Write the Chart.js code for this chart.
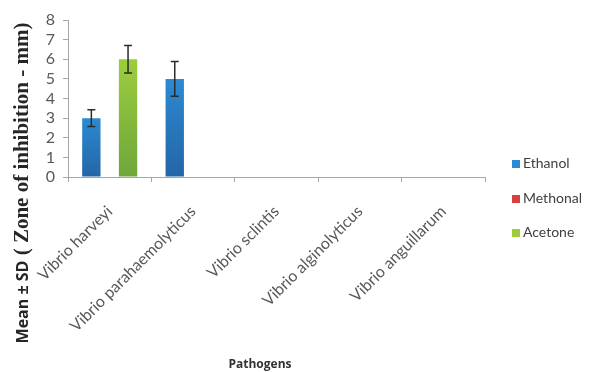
<!DOCTYPE html>
<html>
<head>
<meta charset="utf-8">
<script src="https://cdn.jsdelivr.net/npm/chart.js@4/dist/chart.umd.min.js"></script>
<style>
    body { margin: 0; background: #fff; }
    #wrap { position: relative; width: 597px; height: 372px; }
    #legend { position: absolute; left: 512px; top: 154px; font-family: Lato, "Open Sans", sans-serif; font-size: 14px; color: #404040; }
    .item { height: 34.5px; display: flex; align-items: flex-start; }
    .box { width: 8px; height: 8px; margin-right: 3px; margin-top: 6px; }
</style>
</head>
<body>
<div id="wrap">
    <canvas id="chart" width="597" height="372"></canvas>
    <div id="legend"></div>
</div>
<script>
// DATA
const categories = ['Vibrio harveyi', 'Vibrio parahaemolyticus', 'Vibrio sclintis', 'Vibrio alginolyticus', 'Vibrio anguillarum'];
const seriesNames = ['Ethanol', 'Methonal', 'Acetone'];
const ethanol = [3, 5, 0, 0, 0];
const methonal = [0, 0, 0, 0, 0];
const acetone = [6, 0, 0, 0, 0];
const ethanolSd = [0.43, 0.88, 0, 0, 0];
const methonalSd = [0, 0, 0, 0, 0];
const acetoneSd = [0.7, 0, 0, 0, 0];
const yTicks = [0, 1, 2, 3, 4, 5, 6, 7, 8];

const colors = {
    Ethanol: ['#2c8ad2', '#2365a6'],
    Methonal: ['#d84040', '#b52e2e'],
    Acetone: ['#9dcd3d', '#6ea63a']
};

// bar fill: light at the top of each bar, darker at the base
function shaded(name) {
    return function (ctx) {
        const chart = ctx.chart;
        const y = chart.scales.y;
        if (!y || !chart.chartArea) return colors[name][0];
        const top = y.getPixelForValue(ctx.raw || 0);
        const bottom = y.getPixelForValue(0);
        if (bottom - top < 1) return colors[name][0];
        const g = chart.ctx.createLinearGradient(0, top, 0, bottom);
        g.addColorStop(0, colors[name][0]);
        g.addColorStop(1, colors[name][1]);
        return g;
    };
}

const errorBars = {
    id: 'errorBars',
    afterDatasetsDraw(chart) {
        const ctx = chart.ctx;
        const y = chart.scales.y;
        chart.data.datasets.forEach((ds, i) => {
            const meta = chart.getDatasetMeta(i);
            meta.data.forEach((bar, j) => {
                const sd = ds.sd[j];
                if (!sd) return;
                const v = ds.data[j];
                const yt = y.getPixelForValue(v + sd);
                const yb = y.getPixelForValue(v - sd);
                ctx.save();
                ctx.strokeStyle = '#2b2b2b';
                ctx.lineWidth = 1.5;
                ctx.beginPath();
                ctx.moveTo(bar.x, yt); ctx.lineTo(bar.x, yb);
                ctx.moveTo(bar.x - 4, yt); ctx.lineTo(bar.x + 4, yt);
                ctx.moveTo(bar.x - 4, yb); ctx.lineTo(bar.x + 4, yb);
                ctx.stroke();
                ctx.restore();
            });
        });
    }
};

const axisTitles = {
    id: 'axisTitles',
    afterDraw(chart) {
        const ctx = chart.ctx;
        ctx.save();
        // y title: sans "Mean ± SD" followed by serif remainder
        const partA = 'Mean ± SD';
        const partB = ' ( Zone of inhibition - mm)';
        const fA = 'bold 16px "Open Sans", sans-serif';
        const fB = 'bold 21px "Liberation Serif", serif';
        ctx.font = fA; const wA = ctx.measureText(partA).width;
        ctx.font = fB; const wB = ctx.measureText(partB).width;
        ctx.translate(28, 183);
        ctx.rotate(-Math.PI / 2);
        ctx.fillStyle = '#262626';
        ctx.textBaseline = 'alphabetic';
        ctx.textAlign = 'left';
        let x0 = -(wA + wB) / 2;
        ctx.font = fA; ctx.fillText(partA, x0, 0);
        ctx.font = fB; ctx.fillText(partB, x0 + wA, 0);
        ctx.restore();

        ctx.save();
        ctx.font = 'bold 12px "Open Sans", sans-serif';
        ctx.fillStyle = '#333';
        ctx.textAlign = 'center';
        ctx.textBaseline = 'middle';
        ctx.fillText('Pathogens', 260, 365);
        ctx.restore();
    }
};

const data = [ethanol, methonal, acetone];
const sds = [ethanolSd, methonalSd, acetoneSd];

const chart = new Chart(document.getElementById('chart'), {
    type: 'bar',
    data: {
        labels: categories,
        datasets: seriesNames.map((name, i) => ({
            label: name,
            data: data[i],
            sd: sds[i],
            backgroundColor: shaded(name),
            borderWidth: 0,
            categoryPercentage: 0.66,
            barPercentage: 1.0
        }))
    },
    options: {
        responsive: false,
        animation: false,
        layout: { padding: { left: 28, right: 112, top: 20, bottom: 0 } },
        plugins: {
            legend: { display: false },
            tooltip: { enabled: false }
        },
        scales: {
            x: {
                grid: { offset: true, drawOnChartArea: false, drawTicks: true, tickLength: 5, color: '#a6a6a6' },
                border: { color: '#a6a6a6', width: 1 },
                ticks: {
                    minRotation: 45, maxRotation: 45, padding: 20, autoSkip: false,
                    color: '#595959',
                    font: { family: 'Lato, "Open Sans", sans-serif', size: 16 }
                },
                afterFit(scale) { scale.height = 195; }
            },
            y: {
                min: 0, max: 8,
                afterBuildTicks(scale) { scale.ticks = yTicks.map(v => ({ value: v })); },
                grid: { drawOnChartArea: false, drawTicks: true, tickLength: 5, color: '#a6a6a6' },
                border: { color: '#a6a6a6', width: 1 },
                ticks: {
                    padding: 8, autoSkip: false,
                    color: '#595959',
                    font: { family: 'Lato, "Open Sans", sans-serif', size: 16 }
                },
                afterFit(scale) { scale.width = 40; }
            }
        }
    },
    plugins: [errorBars, axisTitles]
});

// HTML legend from the dataset names
const legendEl = document.getElementById('legend');
seriesNames.forEach(name => {
    const item = document.createElement('div');
    item.className = 'item';
    item.innerHTML = '<span class="box" style="background:' + colors[name][0] + '"></span><span>' + name + '</span>';
    legendEl.appendChild(item);
});
</script>
</body>
</html>
